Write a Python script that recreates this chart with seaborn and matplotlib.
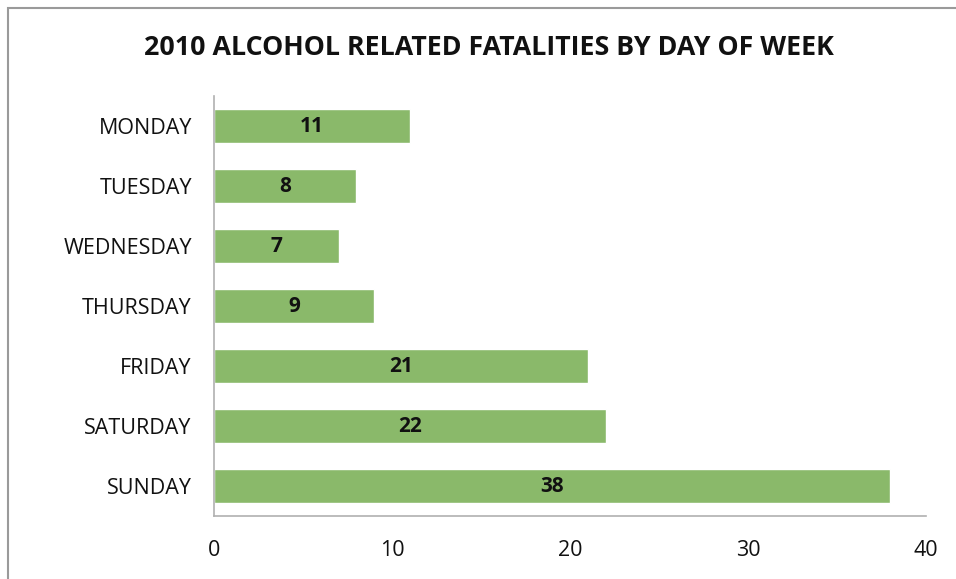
import matplotlib
matplotlib.use("Agg")
import matplotlib.pyplot as plt
import seaborn as sns
import pandas as pd
from matplotlib.patches import Rectangle

days = ["MONDAY", "TUESDAY", "WEDNESDAY", "THURSDAY", "FRIDAY", "SATURDAY", "SUNDAY"]
fatalities = [11, 8, 7, 9, 21, 22, 38]
x_ticks = [0, 10, 20, 30, 40]
title = "2010 ALCOHOL RELATED FATALITIES BY DAY OF WEEK"

sns.set_theme(style="white")
plt.rcParams["font.family"] = ["Open Sans", "DejaVu Sans"]

df = pd.DataFrame({"day": days, "count": fatalities})

W, H = 956, 579
fig = plt.figure(figsize=(W / 100, H / 100), dpi=100)
ax = fig.add_axes([214 / W, 1 - 516 / H, (926 - 214) / W, (516 - 96) / H])

sns.barplot(data=df, x="count", y="day", order=days, color="#8ab96a",
            saturation=1, width=0.58, ax=ax)

for patch, v in zip(ax.patches, fatalities):
    cx = patch.get_x() + patch.get_width() / 2
    cy = patch.get_y() + patch.get_height() / 2
    ax.text(cx, cy, str(v), ha="center", va="center", fontsize=15,
            fontweight="bold", color="#111111")

ax.set_xlim(0, 40)
ax.set_xticks(x_ticks)
ax.set_xticklabels([str(t) for t in x_ticks], fontsize=15.5, color="#111111")
ax.tick_params(axis="x", pad=17, length=0)
ax.tick_params(axis="y", pad=16, length=0, labelsize=15.5, labelcolor="#111111")
ax.set_xlabel("")
ax.set_ylabel("")

for side in ["top", "right"]:
    ax.spines[side].set_visible(False)
for side in ["left", "bottom"]:
    ax.spines[side].set_color("#b0b0b0")
    ax.spines[side].set_linewidth(1.2)
ax.spines["bottom"].set_bounds(0, 40)
ax.set_xlim(0, 40)

fig.text(489 / W, 1 - 48 / H, title, ha="center", va="center",
         fontsize=19.3, fontweight="bold", color="#111111")

# outer chart frame
fig.patches.append(Rectangle((8 / W, -0.05), 1.2, 1 - 8 / H + 0.05,
                             transform=fig.transFigure, fill=False,
                             edgecolor="#9a9a9a", linewidth=1.5))

fig.savefig("out.png", dpi=100)
